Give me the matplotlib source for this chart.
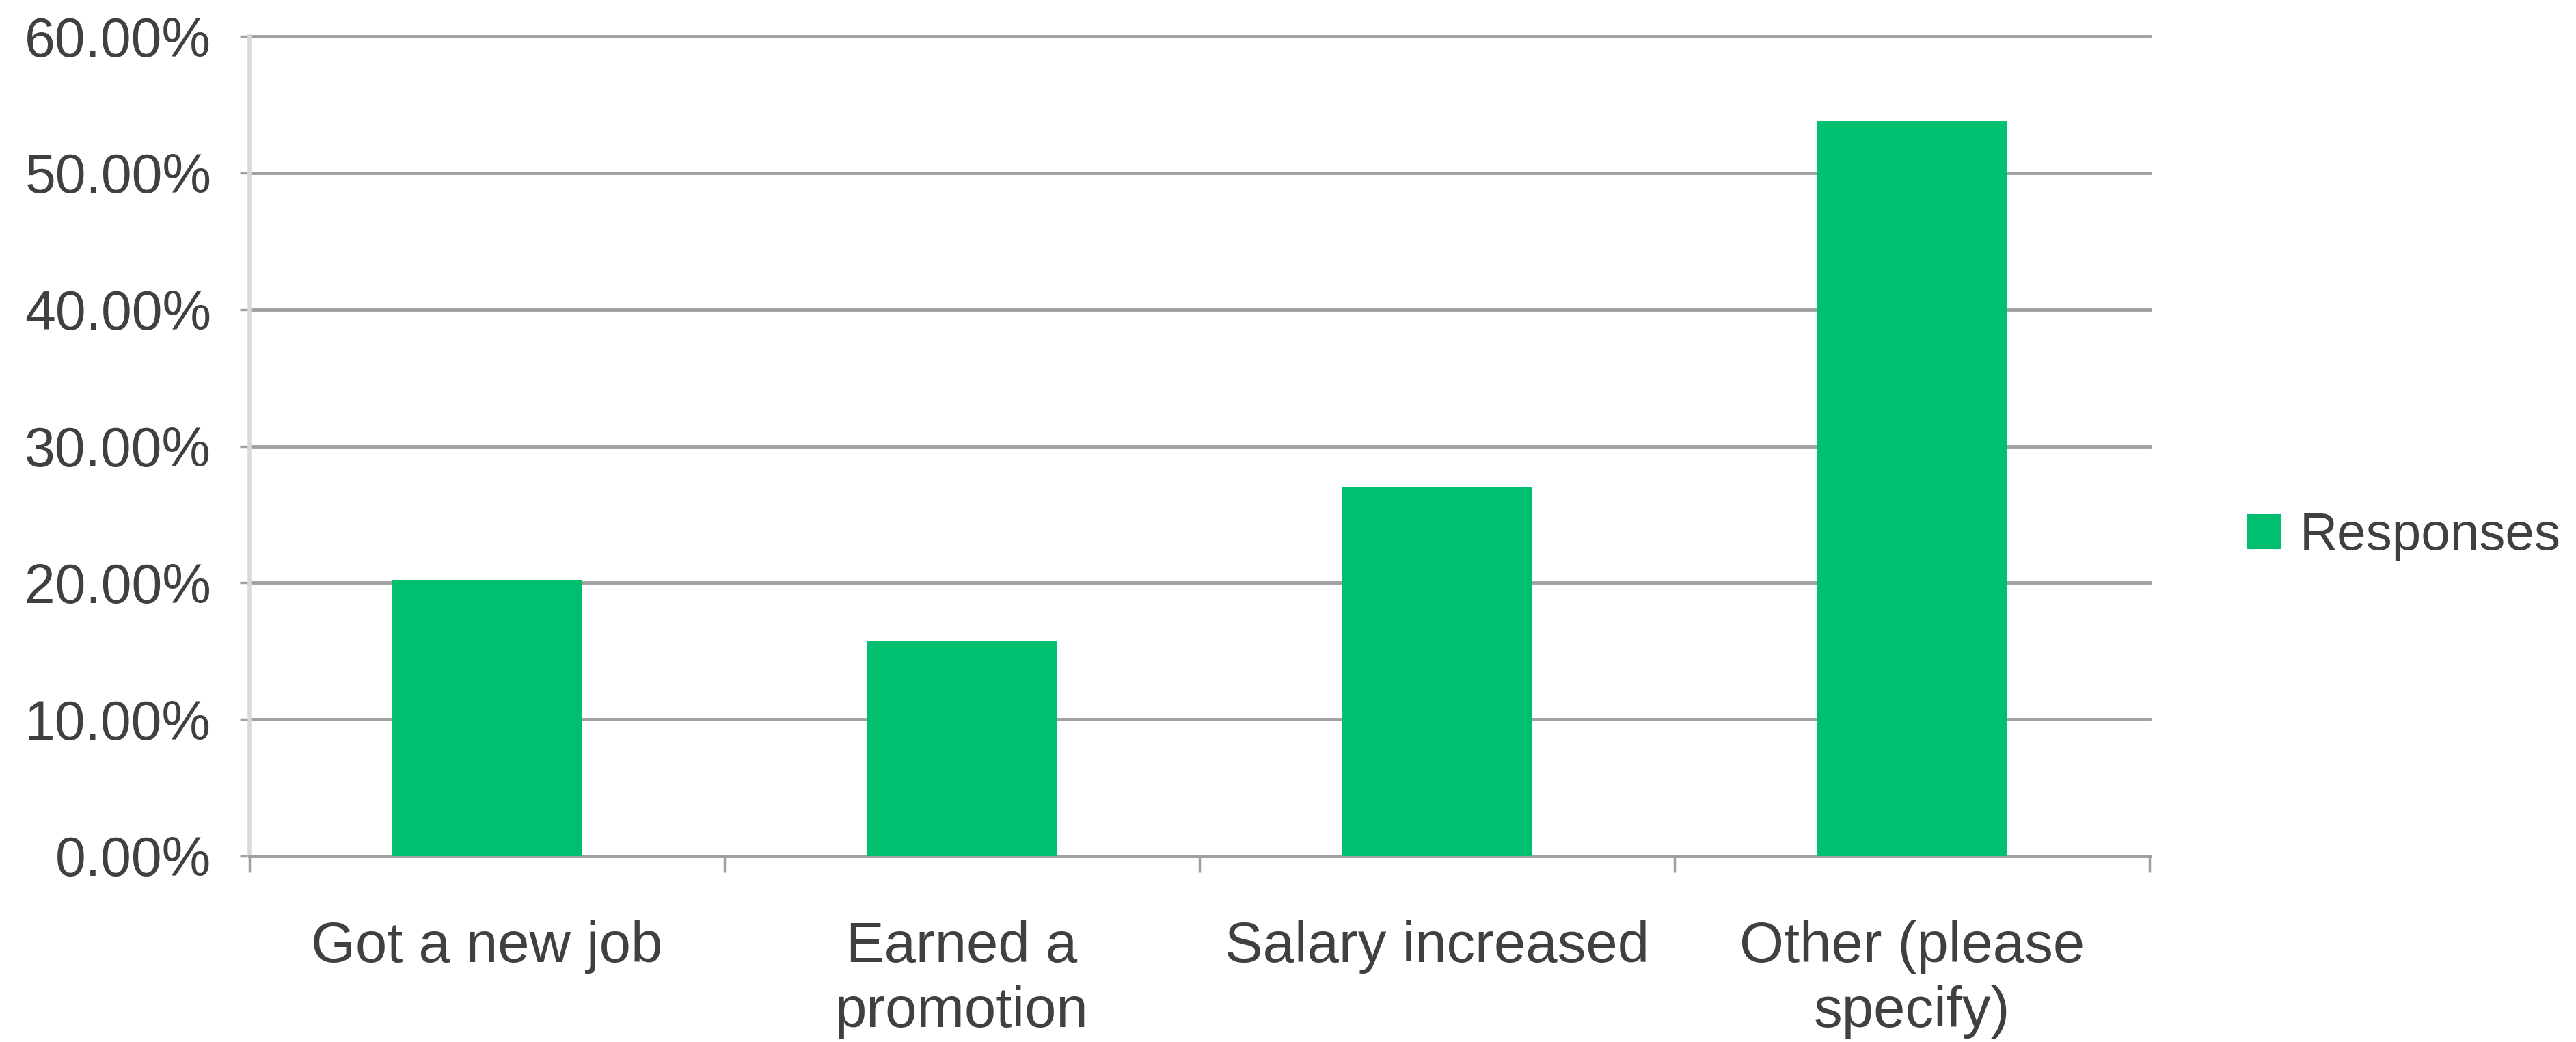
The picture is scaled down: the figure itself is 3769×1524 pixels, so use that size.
import matplotlib
matplotlib.use("Agg")
import matplotlib.pyplot as plt
from matplotlib.patches import Patch
from matplotlib.ticker import FixedLocator

categories = ["Got a new job", "Earned a\npromotion", "Salary increased", "Other (please\nspecify)"]
responses = [20.2, 15.7, 27.0, 53.8]
yticks = [0, 10, 20, 30, 40, 50, 60]
series_name = "Responses"

green = "#00BF6F"
grid_c = "#a0a0a0"
text_c = "#404040"

plt.rcParams['font.family'] = ['Liberation Sans', 'DejaVu Sans']

fig = plt.figure(figsize=(37.69, 15.24), dpi=100)
ax = fig.add_axes([0.0968, 0.1785, 0.7376, 0.7867])

x = list(range(len(categories)))
ax.bar(x, responses, width=0.4, color=green, zorder=3)

ax.set_xlim(-0.5, len(categories) - 0.5)
ax.set_ylim(0, 60)
ax.set_yticks(yticks)
ax.set_yticklabels([f"{v:.2f}%" for v in yticks], fontsize=58, color=text_c)
ax.yaxis.grid(True, color=grid_c, linewidth=3.5, zorder=0, clip_on=False)
ax.set_axisbelow(True)

ax.set_xticks(x)
ax.set_xticklabels(categories, fontsize=60, color=text_c, linespacing=1.28)
ax.xaxis.set_minor_locator(FixedLocator([i - 0.5 for i in range(len(categories) + 1)]))
ax.tick_params(axis='x', which='major', length=0, pad=68)
ax.tick_params(axis='x', which='minor', length=17, width=2.5, color=grid_c)
ax.tick_params(axis='y', which='major', length=10, width=2.5, color=grid_c, pad=30)

for s in ['top', 'right']:
    ax.spines[s].set_visible(False)
ax.spines['left'].set_color('#d9d9d9')
ax.spines['left'].set_linewidth(4)
ax.spines['bottom'].set_color(grid_c)
ax.spines['bottom'].set_linewidth(3.5)

handle = Patch(facecolor=green, edgecolor='none', label=series_name)
fig.legend(handles=[handle], loc='center left', bbox_to_anchor=(0.8725, 0.485),
           frameon=False, fontsize=55, handlelength=0.65, handleheight=0.65,
           handletextpad=0.35, labelcolor=text_c, borderpad=0, borderaxespad=0)

fig.savefig("out.png", dpi=100, facecolor='white')
